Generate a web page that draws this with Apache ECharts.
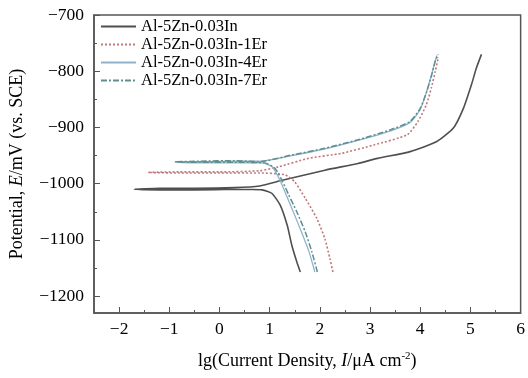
<!DOCTYPE html>
<html>
<head>
<meta charset="utf-8">
<script src="https://cdn.jsdelivr.net/npm/echarts@6/dist/echarts.min.js"></script>
<style>
  html, body { margin: 0; padding: 0; background: #fff; }
  #main { width: 528px; height: 378px; }
</style>
</head>
<body>
<div id="main"></div>
<script>
// polarisation curves, lg(I) vs E
const names = ['Al-5Zn-0.03In', 'Al-5Zn-0.03In-1Er', 'Al-5Zn-0.03In-4Er', 'Al-5Zn-0.03In-7Er'];

const in_lgI = [1.61, 1.54, 1.44, 1.35, 1.21, 1.04, 0.85, 0.3, -0.5, -1.2, -1.7, -1.2, -0.5, 0.3, 0.8, 1.25, 2.1, 2.76, 3.15, 3.8, 4.33, 4.66, 4.86, 5.02, 5.12, 5.22];
const in_E   = [-1157, -1139, -1109, -1074, -1038, -1017, -1011, -1010, -1011, -1011, -1010, -1008, -1008, -1007, -1004, -994, -976, -964, -955, -943, -925, -901, -866, -824, -794, -770];

const er1_lgI = [2.26, 2.2, 2.1, 1.94, 1.71, 1.5, 1.3, 0.8, 0, -0.8, -1.42, -0.8, 0, 0.8, 1.18, 1.77, 2.43, 3.08, 3.74, 3.95, 4.12, 4.22, 4.3, 4.36];
const er1_E   = [-1157, -1133, -1098, -1062, -1026, -997, -984, -981, -981, -981, -980, -979, -979, -977, -970, -955, -946, -931, -913, -890, -860, -830, -800, -775];

const er4_lgI = [1.9, 1.78, 1.63, 1.47, 1.32, 1.2, 1.05, 0.85, 0.3, -0.4, -0.85, -0.4, 0.3, 0.79, 1.44, 2.1, 2.76, 3.41, 3.8, 4.0, 4.12, 4.22, 4.29, 4.33];
const er4_E   = [-1157, -1120, -1085, -1050, -1018, -993, -970, -963, -963, -963, -962, -961, -960, -960, -950, -938, -923, -906, -891, -868, -838, -808, -784, -772];

const er7_lgI = [1.95, 1.84, 1.71, 1.54, 1.38, 1.25, 1.1, 0.9, 0.3, -0.4, -0.89, -0.4, 0.3, 0.79, 1.44, 2.1, 2.76, 3.41, 3.8, 4.0, 4.13, 4.23, 4.3, 4.36];
const er7_E   = [-1157, -1121, -1086, -1050, -1020, -995, -972, -963, -962, -962, -961, -960, -959, -961, -949, -937, -922, -904, -889, -866, -836, -806, -782, -770];

const xMajor = [-2, -1, 0, 1, 2, 3, 4, 5, 6];
const xMinor = [-2.5, -1.5, -0.5, 0.5, 1.5, 2.5, 3.5, 4.5, 5.5];
const yMajor = [-1200, -1100, -1000, -900, -800, -700];
const yMinor = [-1150, -1050, -950, -850, -750];

function pairs(xs, ys) { return xs.map((x, i) => [x, ys[i]]); }
const minus = v => String(v).replace('-', '\u2212');

const serif = '"Liberation Serif", "Times New Roman", serif';
const frame = '#555';

const chart = echarts.init(document.getElementById('main'));

chart.setOption({
    animation: false,
    textStyle: { fontFamily: serif, color: '#000' },
    grid: { left: 93, right: 6, top: 15, bottom: 65, show: true, borderColor: frame, borderWidth: 1.5 },
    legend: {
        orient: 'vertical',
        left: 100, top: 18, padding: 0,
        itemWidth: 35, itemHeight: 14, itemGap: 1,
        itemStyle: { opacity: 0 },
        textStyle: { fontFamily: serif, fontSize: 16.5, color: '#000', lineHeight: 14 },
        data: names
    },
    xAxis: [
        {
            type: 'value', min: -2.5, max: 6, position: 'bottom',
            axisLine: { show: true, onZero: false, lineStyle: { color: frame, width: 1.5 } },
            axisTick: { show: true, inside: true, length: 6, customValues: xMajor, lineStyle: { color: frame } },
            axisLabel: { customValues: xMajor, formatter: minus, fontSize: 17.5, color: '#000', margin: 7, fontFamily: serif },
            splitLine: { show: false },
            name: '{n|lg(Current Density, }{i|I}{n|/μA cm}{s|-2}{n|)}',
            nameLocation: 'middle', nameGap: 38,
            nameTextStyle: {
                rich: {
                    n: { fontFamily: serif, fontSize: 18, color: '#000', lineHeight: 20 },
                    i: { fontFamily: serif, fontSize: 18, color: '#000', fontStyle: 'italic', lineHeight: 20 },
                    s: { fontFamily: serif, fontSize: 11, color: '#000', verticalAlign: 'top', lineHeight: 20 }
                }
            }
        },
        {
            type: 'value', min: -2.5, max: 6, position: 'bottom',
            axisLine: { show: false, onZero: false },
            axisTick: { show: true, inside: true, length: 3, customValues: xMinor, lineStyle: { color: frame } },
            axisLabel: { show: false },
            splitLine: { show: false }
        }
    ],
    yAxis: [
        {
            type: 'value', min: -1230, max: -700, position: 'left',
            axisLine: { show: true, onZero: false, lineStyle: { color: frame, width: 1.5 } },
            axisTick: { show: true, inside: true, length: 6, customValues: yMajor, lineStyle: { color: frame } },
            axisLabel: { customValues: yMajor, formatter: minus, fontSize: 17.5, color: '#000', margin: 10, fontFamily: serif },
            splitLine: { show: false },
            name: '{n|Potential, }{i|E}{n|/mV (vs. SCE)}',
            nameLocation: 'middle', nameRotate: 90, nameGap: 68,
            nameTextStyle: {
                rich: {
                    n: { fontFamily: serif, fontSize: 18, color: '#000' },
                    i: { fontFamily: serif, fontSize: 18, color: '#000', fontStyle: 'italic' }
                }
            }
        },
        {
            type: 'value', min: -1230, max: -700, position: 'left',
            axisLine: { show: false, onZero: false },
            axisTick: { show: true, inside: true, length: 3, customValues: yMinor, lineStyle: { color: frame } },
            axisLabel: { show: false },
            splitLine: { show: false }
        }
    ],
    series: [
        {
            name: names[0], type: 'line', symbol: 'none', smooth: 0.2,
            lineStyle: { color: '#4f4f4f', width: 1.6 }, itemStyle: { color: '#4f4f4f' },
            data: pairs(in_lgI, in_E)
        },
        {
            name: names[1], type: 'line', symbol: 'none', smooth: 0.2,
            lineStyle: { color: '#c07878', width: 1.6, type: [2, 2] }, itemStyle: { color: '#c07878' },
            data: pairs(er1_lgI, er1_E)
        },
        {
            name: names[2], type: 'line', symbol: 'none', smooth: 0.2,
            lineStyle: { color: '#8fb3cc', width: 1.3 }, itemStyle: { color: '#8fb3cc' },
            data: pairs(er4_lgI, er4_E)
        },
        {
            name: names[3], type: 'line', symbol: 'none', smooth: 0.2,
            lineStyle: { color: '#5e8f8c', width: 1.5, type: [6, 2, 2, 2] }, itemStyle: { color: '#5e8f8c' },
            data: pairs(er7_lgI, er7_E)
        }
    ]
});
</script>
</body>
</html>
